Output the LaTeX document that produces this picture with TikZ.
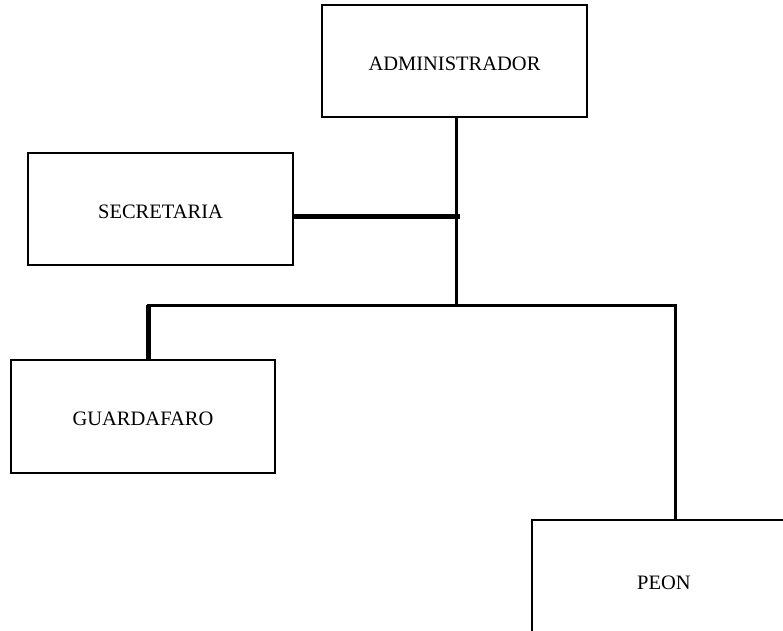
\documentclass[tikz,border=0pt]{standalone}
\usepackage{fontspec}
\setmainfont{Liberation Serif}
\begin{document}
\begin{tikzpicture}[x=1bp,y=-1bp,
  box/.style={draw=black,line width=1.1bp,minimum width=265bp,minimum height=112bp,inner sep=0pt,
    font=\fontsize{20.5bp}{24bp}\selectfont,text height=18.6bp,text depth=0pt},
  link/.style={line width=3bp,black},
  thicklink/.style={line width=4.2bp,black}]
\useasboundingbox (0,0) rectangle (783,631);
\node[box] (adm) at (454.5,61) {ADMINISTRADOR};
\node[box] (sec) at (160.5,209) {SECRETARIA};
\node[box,minimum width=264bp,minimum height=113bp] (gua) at (143,416.5) {GUARDAFARO};
\node[box,minimum width=264bp,minimum height=120bp] (peon) at (664,580) {PEON};
\coordinate (bus) at (456.5,305);
\coordinate (sj) at (460,216.5);
\coordinate (bl) at (148.5,305);
\coordinate (br) at (675.5,305);
\coordinate (ble) at (146.5,305);
\coordinate (bre) at (677,305);
\draw[link] (adm.south -| bus) -- (bus);
\draw[thicklink] (sec.east |- sj) -- (sj);
\draw[link] (ble) -- (bre);
\draw[thicklink] (bl) -- (gua.north -| bl);
\draw[link] (br) -- (peon.north -| br);
\end{tikzpicture}
\end{document}
